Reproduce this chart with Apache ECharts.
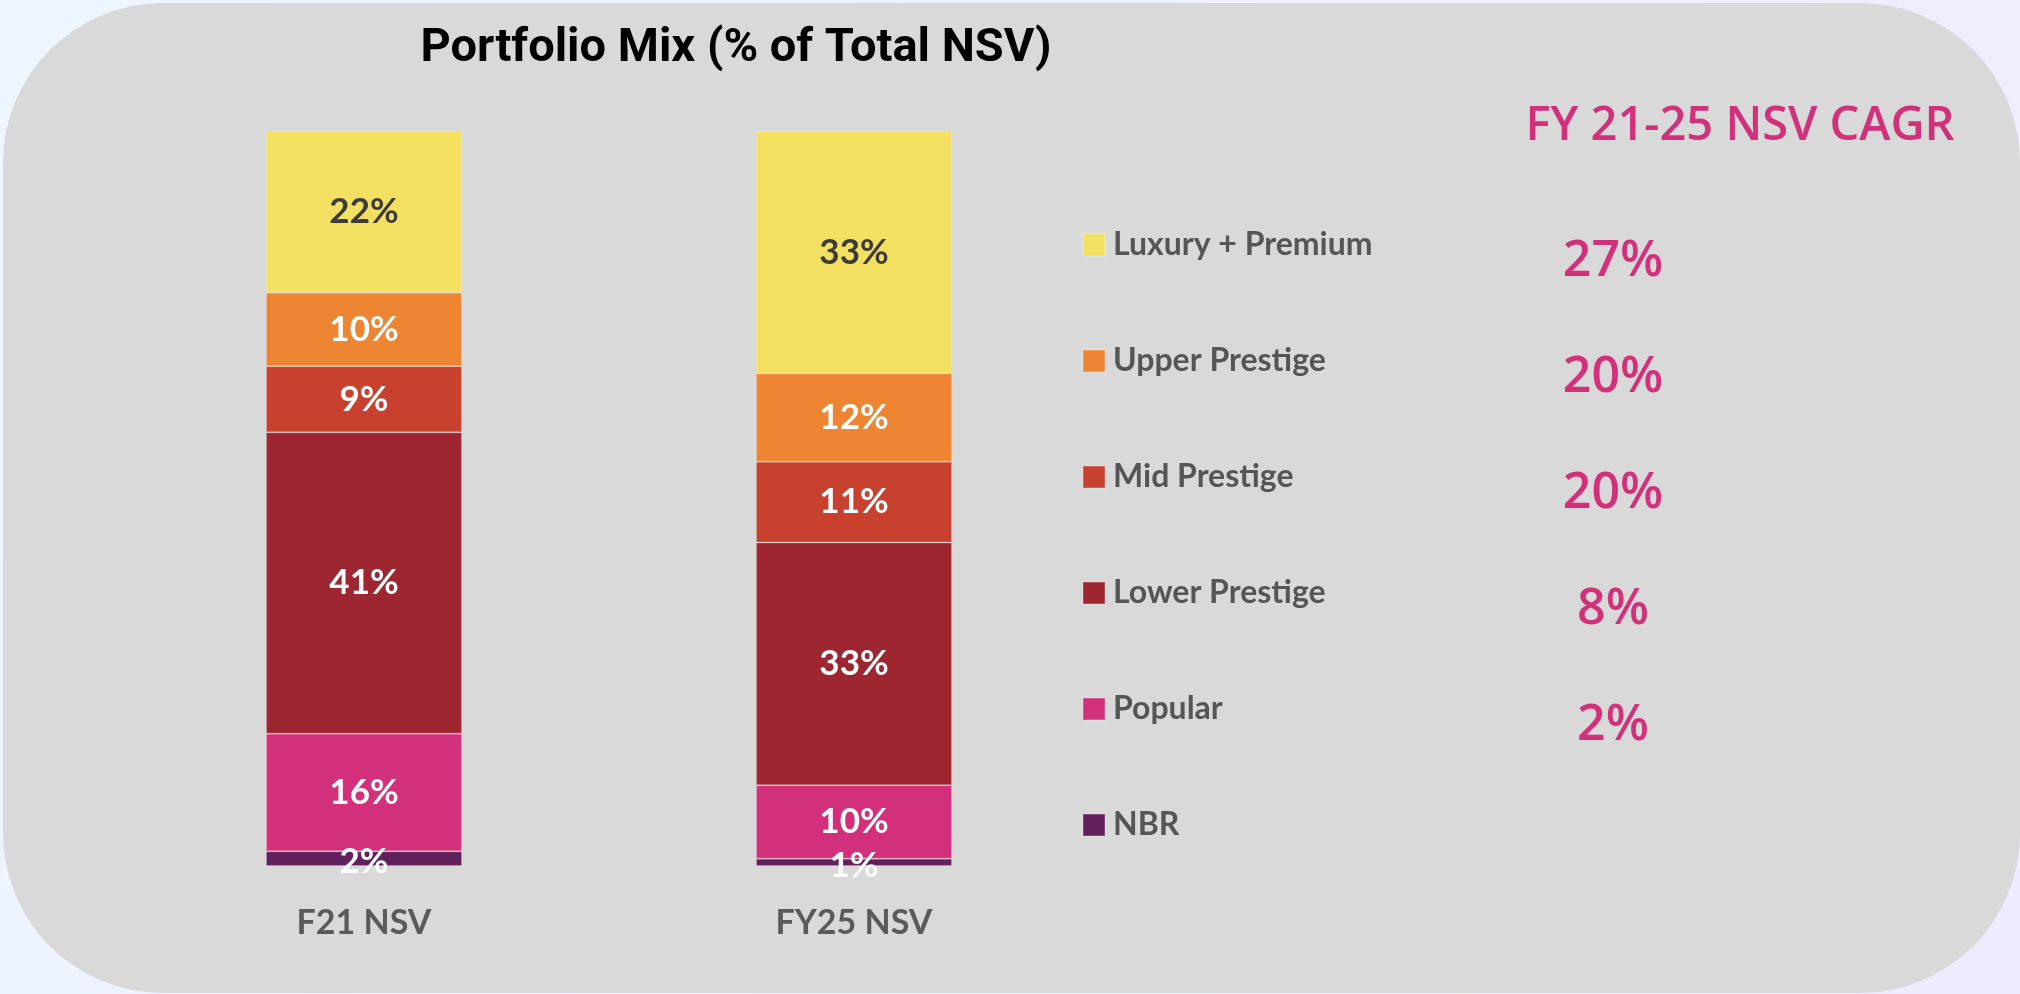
<!DOCTYPE html>
<html>
<head>
<meta charset="utf-8">
<title>Portfolio Mix</title>
<script src="https://cdn.jsdelivr.net/npm/echarts@6/dist/echarts.min.js"></script>
<style>
  html, body { margin: 0; padding: 0; }
  #main { width: 2020px; height: 994px; }
</style>
</head>
<body>
<div id="main"></div>
<script>
// data
var categories = ['F21 NSV', 'FY25 NSV'];
var segments = ['NBR', 'Popular', 'Lower Prestige', 'Mid Prestige', 'Upper Prestige', 'Luxury + Premium'];
var nbr = [2, 1];
var popular = [16, 10];
var lowerPrestige = [41, 33];
var midPrestige = [9, 11];
var upperPrestige = [10, 12];
var luxuryPremium = [22, 33];
var cagrTitle = 'FY 21-25 NSV CAGR';
var cagr = ['27%', '20%', '20%', '8%', '2%'];   // Luxury..Popular, no value for NBR

var colors = {
    'NBR': '#61205c',
    'Popular': '#d3307b',
    'Lower Prestige': '#9e2630',
    'Mid Prestige': '#c8402e',
    'Upper Prestige': '#ed8533',
    'Luxury + Premium': '#f3e061'
};
var values = [nbr, popular, lowerPrestige, midPrestige, upperPrestige, luxuryPremium];

var myChart = echarts.init(document.getElementById('main'));

var series = segments.map(function (name, i) {
    return {
        name: name,
        type: 'bar',
        stack: 'mix',
        barWidth: 196,
        data: values[i],
        itemStyle: {
            color: colors[name],
            borderColor: 'rgba(255,255,255,0.18)',
            borderWidth: 1
        },
        label: {
            show: true,
            position: 'inside',
            offset: name === 'NBR' ? [0, 3] : [0, 0],
            formatter: '{c}%',
            fontFamily: 'Lato',
            fontWeight: 'bold',
            fontSize: 35,
            color: name === 'Luxury + Premium' ? '#3b3b3b' : '#ffffff'
        }
    };
});

// CAGR column, one line per legend row
var cagrTexts = cagr.map(function (v, i) {
    return {
        type: 'text',
        x: 1613,
        y: 262 + i * 116,
        style: {
            text: v,
            fill: '#d3307b',
            font: '600 50px "Open Sans"',
            textAlign: 'center',
            textVerticalAlign: 'middle'
        }
    };
});

var option = {
    backgroundColor: {
        type: 'linear', x: 0, y: 0, x2: 1, y2: 1,
        colorStops: [{ offset: 0, color: '#edf6ff' }, { offset: 1, color: '#efebff' }]
    },
    title: {
        text: 'Portfolio Mix (% of Total NSV)',
        left: 731,
        top: 21,
        textAlign: 'center',
        textStyle: {
            fontFamily: 'Roboto',
            fontWeight: 'bold',
            fontSize: 47,
            color: '#000000'
        }
    },
    legend: {
        orient: 'vertical',
        left: 1077,
        top: 223,
        itemWidth: 22,
        itemHeight: 22,
        itemGap: 82,
        icon: 'rect',
        selectedMode: false,
        data: ['Luxury + Premium', 'Upper Prestige', 'Mid Prestige', 'Lower Prestige', 'Popular', 'NBR'],
        textStyle: {
            fontFamily: 'Lato',
            fontWeight: 'bold',
            fontSize: 32,
            lineHeight: 34,
            color: '#555555',
            padding: [0, 0, 0, 3]
        }
    },
    grid: {
        left: 119,
        width: 980,
        top: 131,
        height: 735
    },
    xAxis: {
        type: 'category',
        data: categories,
        axisLine: { show: false },
        axisTick: { show: false },
        axisLabel: {
            margin: 40,
            fontFamily: 'Lato',
            fontWeight: 'bold',
            fontSize: 34,
            color: '#5a5a5a'
        }
    },
    yAxis: {
        type: 'value',
        min: 0,
        max: 100,
        show: false
    },
    graphic: [
        {
            type: 'rect',
            z: -10,
            silent: true,
            shape: { x: 3, y: 3, width: 2017, height: 990, r: 160 },
            style: { fill: '#d9d9d9' }
        },
        {
            type: 'text',
            x: 1740,
            y: 127,
            style: {
                text: cagrTitle,
                fill: '#d3307b',
                font: '600 47px "Open Sans"',
                textAlign: 'center',
                textVerticalAlign: 'middle'
            }
        }
    ].concat(cagrTexts),
    series: series
};

myChart.setOption(option);
</script>
</body>
</html>
